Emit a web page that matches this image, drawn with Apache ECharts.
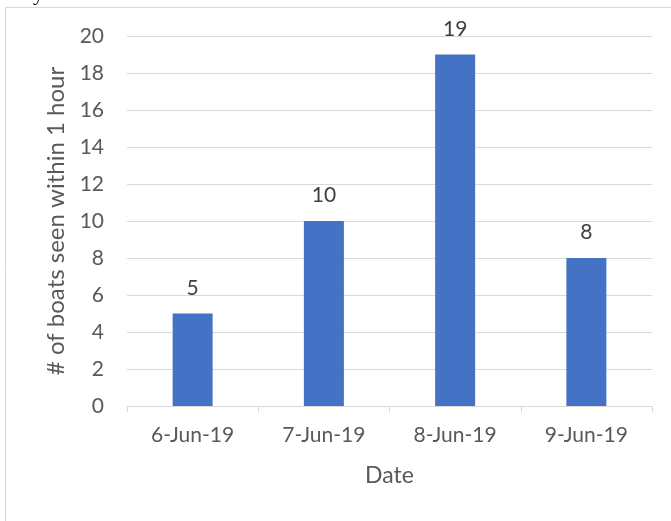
<!DOCTYPE html>
<html>
<head>
<meta charset="utf-8">
<script src="https://cdn.jsdelivr.net/npm/echarts@6/dist/echarts.min.js"></script>
<style>
  html, body { margin: 0; padding: 0; background: #fff; }
  #chart { width: 671px; height: 521px; }
</style>
</head>
<body>
<div id="chart"></div>
<script>
// Boat sightings per day
const dates = ['6-Jun-19', '7-Jun-19', '8-Jun-19', '9-Jun-19'];
const boatCounts = [5, 10, 19, 8];
const yTicks = { min: 0, max: 20, interval: 2 };

const FONT = 'Lato, "Open Sans", sans-serif';
const TEXT = '#595959';
const LINE = '#d9d9d9';

const chart = echarts.init(document.getElementById('chart'), null, { renderer: 'canvas' });
chart.setOption({
  animation: false,
  backgroundColor: '#fff',
  grid: { left: 127, right: 19, top: 36, bottom: 115 },
  xAxis: {
    type: 'category',
    data: dates,
    name: 'Date',
    nameLocation: 'middle',
    nameGap: 58,
    nameTextStyle: { color: TEXT, fontSize: 23, fontFamily: FONT },
    axisLine: { lineStyle: { color: LINE, width: 1 } },
    axisTick: { show: true, length: 6, lineStyle: { color: LINE } },
    axisLabel: { color: TEXT, fontSize: 21, fontFamily: FONT, margin: 19 }
  },
  yAxis: {
    type: 'value',
    min: yTicks.min,
    max: yTicks.max,
    interval: yTicks.interval,
    name: '# of boats seen within 1 hour',
    nameLocation: 'middle',
    nameGap: 58,
    nameTextStyle: { color: TEXT, fontSize: 24, fontFamily: FONT },
    axisLine: { show: false },
    axisTick: { show: false },
    splitLine: { lineStyle: { color: LINE, width: 1 } },
    axisLabel: { color: TEXT, fontSize: 21, fontFamily: FONT, margin: 23 }
  },
  series: [{
    type: 'bar',
    data: boatCounts,
    barWidth: 40,
    itemStyle: { color: '#4472c4' },
    label: {
      show: true,
      position: 'top',
      distance: 15,
      color: '#404040',
      fontSize: 21,
      fontFamily: FONT
    }
  }],
  graphic: [
    // chart frame
    { type: 'line', shape: { x1: 5.5, y1: 7.5, x2: 671, y2: 7.5 }, style: { stroke: LINE, lineWidth: 1 } },
    { type: 'line', shape: { x1: 5.5, y1: 7.5, x2: 5.5, y2: 521 }, style: { stroke: LINE, lineWidth: 1 } },
    // tail of a letter from the surrounding text
    { type: 'text', left: 33, top: -16, style: { text: 'y', fill: '#000', font: '21px "Liberation Serif", serif' } }
  ]
});
</script>
</body>
</html>
